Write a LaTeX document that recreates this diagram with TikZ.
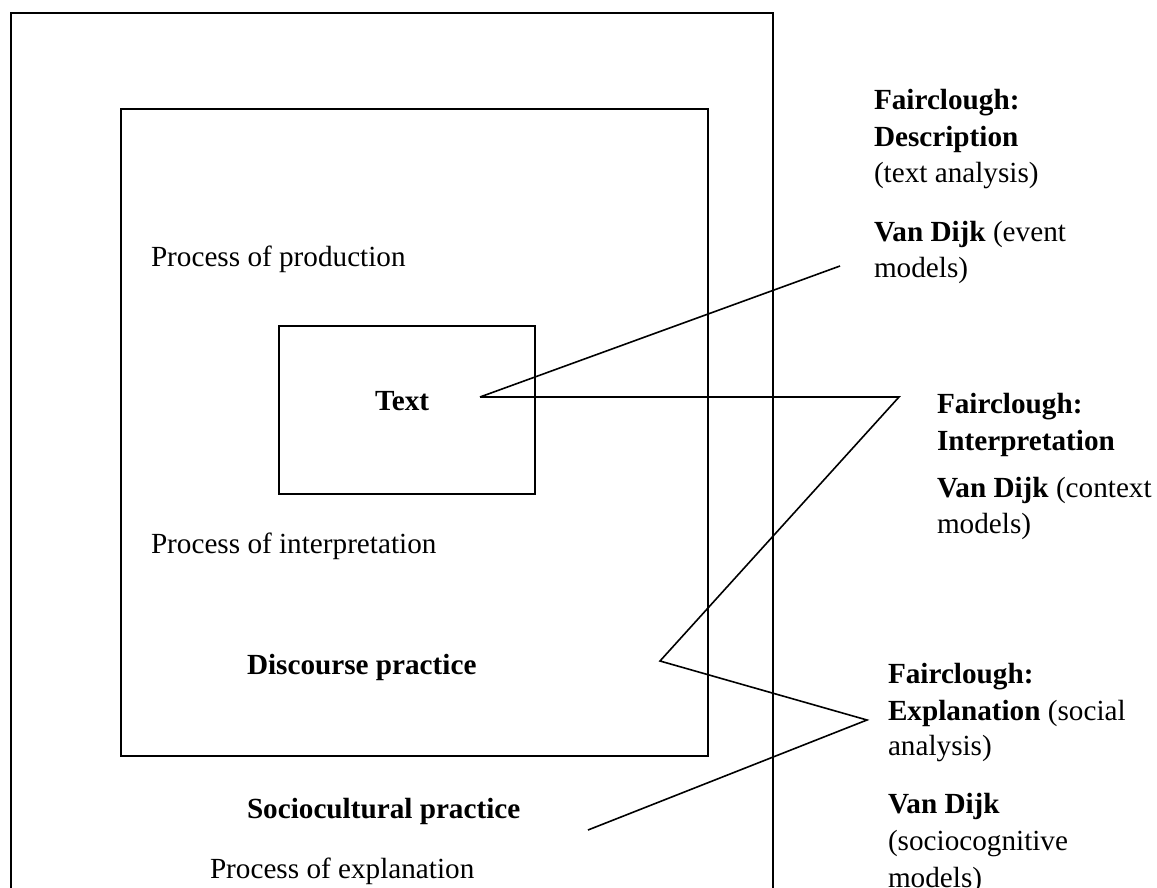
\documentclass[tikz,border=0pt]{standalone}
\usepackage{fontspec}
\setmainfont{Liberation Serif}
\begin{document}
\begin{tikzpicture}[x=0.5pt,y=-0.5pt,
  box/.style={draw=black,line width=1pt},
  lbl/.style={anchor=base west,inner sep=0pt,outer sep=0pt,font=\fontsize{14.6}{18.25}\selectfont},
  conn/.style={draw=black,line width=0.8pt,line join=miter}]
\useasboundingbox[fill=white] (0,0) rectangle (1157,888);
% outer frame (bottom edge falls outside the picture)
\draw[box] (11,900) -- (11,13) -- (773,13) -- (773,900);
% discourse practice frame
\draw[box] (121,109) rectangle (708,756);
% text box
\draw[box] (279,326) rectangle (535,494);

% labels inside
\node[lbl] (prod) at (151,266) {Process of production};
\node[lbl] (text) at (375,410) {\textbf{Text}};
\node[lbl] (interp) at (151,553) {Process of interpretation};
\node[lbl] (disc) at (247,674) {\textbf{Discourse practice}};
\node[lbl] (socio) at (247,818) {\textbf{Sociocultural practice}};
\node[lbl] (expl) at (210,878) {Process of explanation};

% right column: description
\node[lbl] (d1) at (874,110) {\textbf{Fairclough:}};
\node[lbl] (d2) at (874,147) {\textbf{Description}};
\node[lbl] (d3) at (874,183) {(text analysis)};
\node[lbl] (d4) at (874,242) {\textbf{Van Dijk} (event};
\node[lbl] (d5) at (874,277) {models)};
% interpretation
\node[lbl] (i1) at (937,413) {\textbf{Fairclough:}};
\node[lbl] (i2) at (937,450) {\textbf{Interpretation}};
\node[lbl] (i3) at (937,497) {\textbf{Van Dijk} (context};
\node[lbl] (i4) at (937,533) {models)};
% explanation
\node[lbl] (e1) at (888,683) {\textbf{Fairclough:}};
\node[lbl] (e2) at (888,720) {\textbf{Explanation} (social};
\node[lbl] (e3) at (888,755) {analysis)};
\node[lbl] (e4) at (888,813) {\textbf{Van Dijk}};
\node[lbl] (e5) at (888,850) {(sociocognitive};
\node[lbl] (e6) at (888,887) {models)};

% connector points
\coordinate (t) at (480,397);
\coordinate (dEnd) at (840,266);
\coordinate (iPt) at (899,397);
\coordinate (dpPt) at (660,661);
\coordinate (ePt) at (867,720);
\coordinate (scPt) at (588,830);

\draw[conn] (t) -- (dEnd);
\draw[conn] (t) -- (iPt) -- (dpPt) -- (ePt) -- (scPt);
\end{tikzpicture}
\end{document}
